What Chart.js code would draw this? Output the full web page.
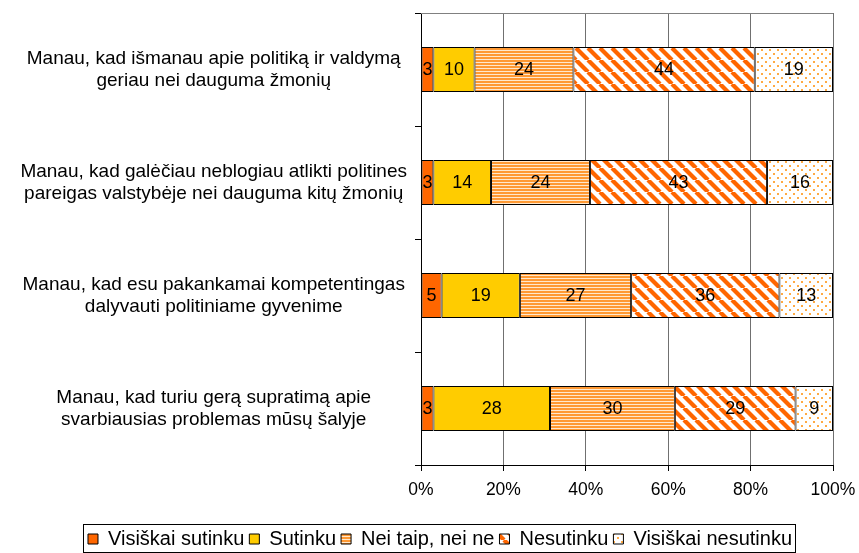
<!DOCTYPE html>
<html>
<head>
<meta charset="utf-8">
<script src="https://cdn.jsdelivr.net/npm/chart.js@4.4.0/dist/chart.umd.min.js"></script>
<style>
  html, body { margin: 0; padding: 0; background: #fff; }
  #chart { display: block; }
</style>
</head>
<body>
<canvas id="chart" width="859" height="553"></canvas>
<script>
// statements, top to bottom
const statements = [
  ['Manau, kad išmanau apie politiką ir valdymą', 'geriau nei dauguma žmonių'],
  ['Manau, kad galėčiau neblogiau atlikti politines', 'pareigas valstybėje nei dauguma kitų žmonių'],
  ['Manau, kad esu pakankamai kompetentingas', 'dalyvauti politiniame gyvenime'],
  ['Manau, kad turiu gerą supratimą apie', 'svarbiausias problemas mūsų šalyje'],
];
const answerLabels = ['Visiškai sutinku', 'Sutinku', 'Nei taip, nei ne', 'Nesutinku', 'Visiškai nesutinku'];

// answers in percent, same order as statements
const fullyAgree = [3, 3, 5, 3];
const agree = [10, 14, 19, 28];
const neutral = [24, 24, 27, 30];
const disagree = [44, 43, 36, 29];
const fullyDisagree = [19, 16, 13, 9];

const tickLabels = ['0%', '20%', '40%', '60%', '80%', '100%'];

const FONT = '"Liberation Sans", Arial, sans-serif';
Chart.defaults.font.family = FONT;
Chart.defaults.color = '#000';

const canvas = document.getElementById('chart');
const mainCtx = canvas.getContext('2d');

function makePattern(w, h, paint) {
  const tile = document.createElement('canvas');
  tile.width = w;
  tile.height = h;
  paint(tile.getContext('2d'), w, h);
  return mainCtx.createPattern(tile, 'repeat');
}

const hStripes = makePattern(4, 3, (g, w) => {
  g.fillStyle = '#ffe8cc';
  g.fillRect(0, 0, w, 3);
  g.fillStyle = '#ff9933';
  g.fillRect(0, 0, w, 2);
});

const diagStripes = makePattern(12, 12, (g) => {
  g.fillStyle = '#fff';
  g.fillRect(0, 0, 12, 12);
  g.strokeStyle = '#ff6600';
  g.lineWidth = 4.2;
  for (const x0 of [-12, 0, 12]) {
    g.beginPath();
    g.moveTo(x0, 0);
    g.lineTo(x0 + 12, 12);
    g.stroke();
  }
});

const dots = makePattern(8, 8, (g) => {
  g.fillStyle = '#fff';
  g.fillRect(0, 0, 8, 8);
  g.fillStyle = '#ffaa44';
  g.fillRect(1, 1, 2, 2);
  g.fillRect(5, 5, 2, 2);
});

const series = [fullyAgree, agree, neutral, disagree, fullyDisagree];
const fills = ['#ff6600', '#ffcc00', hStripes, diagStripes, dots];

// 100% stacked, like the original: each row is scaled to its own total
const rowTotals = statements.map((_, j) => series.reduce((s, arr) => s + arr[j], 0));

const datasets = series.map((arr, i) => ({
  label: answerLabels[i],
  values: arr,
  data: arr.map((v, j) => v / rowTotals[j] * 100),
  backgroundColor: fills[i],
  borderColor: '#000',
  borderWidth: 1,
  borderSkipped: false,
  barPercentage: 0.4,
  categoryPercentage: 1,
}));

const valueLabels = {
  id: 'valueLabels',
  afterDatasetsDraw(chart) {
    const ctx = chart.ctx;
    ctx.save();
    ctx.font = `18px ${FONT}`;
    ctx.fillStyle = '#000';
    ctx.textAlign = 'center';
    ctx.textBaseline = 'middle';
    chart.data.datasets.forEach((ds, i) => {
      chart.getDatasetMeta(i).data.forEach((bar, j) => {
        const p = bar.getCenterPoint();
        ctx.fillText(String(ds.values[j]), p.x, p.y + 1);
      });
    });
    ctx.restore();
  },
};

// legend sits a little right of the canvas centre in the original
const legendShift = {
  id: 'legendShift',
  afterLayout(chart) {
    chart.legend.left += 21;
  },
};

const frames = {
  id: 'frames',
  afterDraw(chart) {
    const ctx = chart.ctx;
    const area = chart.chartArea;
    ctx.save();
    ctx.strokeStyle = '#808080';
    ctx.lineWidth = 1;
    ctx.beginPath();
    ctx.moveTo(area.left, area.top + 0.5);
    ctx.lineTo(area.right, area.top + 0.5);
    ctx.stroke();

    const boxes = chart.legend.legendHitBoxes;
    if (boxes && boxes.length) {
      const left = Math.min(...boxes.map((b) => b.left)) - 5;
      const right = Math.max(...boxes.map((b) => b.left + b.width)) + 3;
      const top = Math.min(...boxes.map((b) => b.top)) - 5;
      ctx.strokeStyle = '#000';
      ctx.strokeRect(Math.round(left) + 0.5, Math.round(top) + 0.5, Math.round(right - left), 28);
    }
    ctx.restore();
  },
};

new Chart(canvas, {
  type: 'bar',
  data: { labels: statements, datasets },
  options: {
    indexAxis: 'y',
    responsive: false,
    animation: false,
    layout: { padding: { top: 13, right: 0, left: 0, bottom: -6 } },
    plugins: {
      tooltip: { enabled: false },
      legend: {
        position: 'bottom',
        labels: {
          boxWidth: 10,
          boxHeight: 10,
          padding: 5,
          color: '#000',
          font: { size: 20 },
        },
      },
    },
    scales: {
      x: {
        stacked: true,
        min: 0,
        max: 100,
        afterFit: (scale) => {
          scale.height = 59;
          scale.paddingLeft = 0;
          scale.paddingRight = 26;
        },
        ticks: {
          stepSize: 20,
          padding: 9,
          font: { size: 17.5 },
          color: '#000',
          callback: (v) => tickLabels[Math.round(v / 20)],
        },
        grid: { color: '#707070', tickColor: '#000', tickLength: 6 },
        border: { color: '#000', width: 1 },
      },
      y: {
        stacked: true,
        afterFit: (scale) => {
          scale.width = 421;
          scale.paddingTop = 0;
          scale.paddingBottom = 0;
        },
        ticks: {
          crossAlign: 'center',
          padding: 8,
          color: '#000',
          font: { size: 19, lineHeight: 1.18 },
        },
        grid: { drawOnChartArea: false, offset: true, tickLength: 6, color: '#000' },
        border: { color: '#000', width: 1 },
      },
    },
  },
  plugins: [valueLabels, legendShift, frames],
});
</script>
</body>
</html>
